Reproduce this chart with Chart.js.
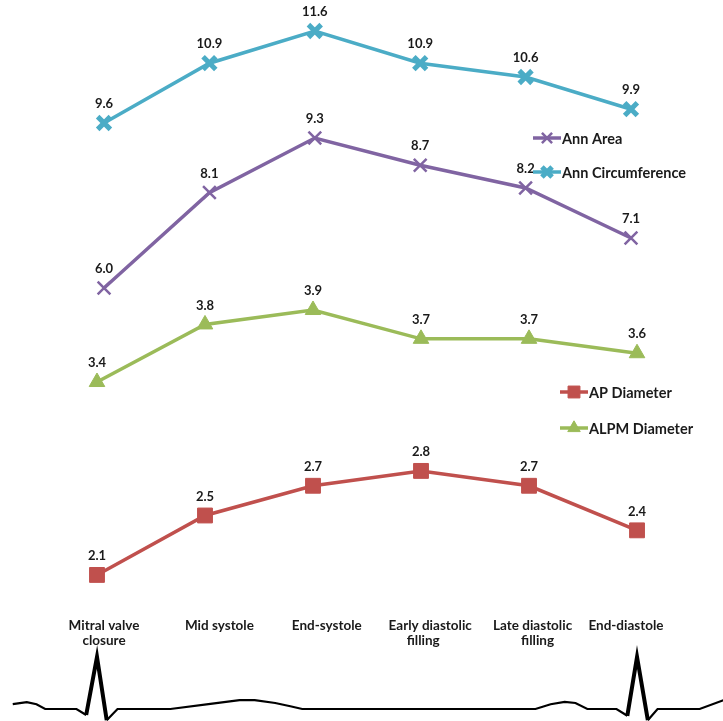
<!DOCTYPE html>
<html>
<head>
<meta charset="utf-8">
<title>Mitral annulus dimensions through the cardiac cycle</title>
<script src="https://cdn.jsdelivr.net/npm/chart.js@4.4.1/dist/chart.umd.min.js"></script>
<style>
    body { margin: 0; background: #fff; }
    canvas { display: block; }
</style>
</head>
<body>
<canvas id="annulusChart" width="723" height="721"></canvas>
<script>
// cardiac phases (x positions are phase indices 0..5)
const phases = [["Mitral valve", "closure"], "Mid systole", "End-systole", ["Early diastolic", "filling"], ["Late diastolic", "filling"], "End-diastole"];

// annulus measurements per phase
const annCircumference = [9.6, 10.9, 11.6, 10.9, 10.6, 9.9];
const annArea = [6.0, 8.1, 9.3, 8.7, 8.2, 7.1];
const alpmDiameter = [3.4, 3.8, 3.9, 3.7, 3.7, 3.6];
const apDiameter = [2.1, 2.5, 2.7, 2.8, 2.7, 2.4];

// ECG trace under the phases (phase index, mV)
const ecgPhase = [-0.78, -0.65, -0.56, -0.48, -0.19, -0.10, 0, 0.09, 0.19, 0.68, 1.05, 1.32, 1.46, 1.65, 1.79, 1.90,
    4.06, 4.20, 4.33, 4.43, 4.54, 4.81, 4.91, 5.0, 5.10, 5.19, 5.58, 5.80];
const ecgMv = [0.12, 0.17, 0.12, 0, 0, -0.15, 1.3, -0.28, 0, 0, 0.13, 0.22, 0.22, 0.15, 0.07, 0,
    0, 0.12, 0.18, 0.15, 0, 0, -0.17, 1.3, -0.28, 0, 0, 0.22];

const colors = {
    circ: "#4BACC6",
    area: "#8064A2",
    alpm: "#9BBB59",
    ap: "#C0504D"
};

function toPoints(values) {
    return values.map((v, i) => ({ x: i, y: v }));
}

const font = "Lato, 'DejaVu Sans', sans-serif";

// value labels above every point
const valueLabels = {
    id: "valueLabels",
    afterDatasetsDraw(chart) {
        const ctx = chart.ctx;
        ctx.save();
        ctx.font = "bold 13px " + font;
        ctx.fillStyle = "#1a1a1a";
        ctx.textAlign = "center";
        ctx.textBaseline = "middle";
        chart.data.datasets.forEach((ds, i) => {
            if (!ds.showValues) return;
            chart.getDatasetMeta(i).data.forEach((pt, j) => {
                ctx.fillText(ds.data[j].y.toFixed(1), pt.x, pt.y - 19);
            });
        });
        ctx.restore();
    }
};

// phase names under the plot; text boxes sit a little off the point columns
const phaseLabels = {
    id: "phaseLabels",
    afterDraw(chart, args, opts) {
        const ctx = chart.ctx;
        const xs = chart.scales.x;
        ctx.save();
        ctx.font = "bold 13.5px " + font;
        ctx.fillStyle = "#1a1a1a";
        ctx.textAlign = "center";
        ctx.textBaseline = "middle";
        phases.forEach((name, i) => {
            const lines = Array.isArray(name) ? name : [name];
            lines.forEach((line, k) => {
                const dx = opts.nudge[i][k] || 0;
                ctx.fillText(line, xs.getPixelForValue(i) + dx, 626 + k * 15);
            });
        });
        ctx.restore();
    }
};

// two legend blocks, each next to its own group of lines
const groupLegends = {
    id: "groupLegends",
    afterDraw(chart, args, opts) {
        const ctx = chart.ctx;
        ctx.save();
        ctx.font = "bold 14.5px " + font;
        ctx.textBaseline = "middle";
        ctx.textAlign = "left";
        opts.items.forEach(item => {
            const ds = chart.data.datasets.find(d => d.label === item.label);
            ctx.strokeStyle = ds.borderColor;
            ctx.lineWidth = 3.5;
            ctx.beginPath();
            ctx.moveTo(item.x, item.y);
            ctx.lineTo(item.x + 28, item.y);
            ctx.stroke();
            ctx.fillStyle = ds.pointBackgroundColor;
            ctx.strokeStyle = ds.pointBorderColor;
            ctx.lineWidth = ds.pointBorderWidth;
            Chart.helpers.drawPoint(ctx, { pointStyle: ds.pointStyle, radius: ds.pointRadius * 0.8, rotation: 0, borderWidth: ds.pointBorderWidth }, item.x + 14, item.y);
            ctx.fillStyle = "#1a1a1a";
            ctx.fillText(ds.label, item.x + 29, item.y + 1);
        });
        ctx.restore();
    }
};

const ctx = document.getElementById("annulusChart").getContext("2d");
new Chart(ctx, {
    type: "line",
    data: {
        datasets: [
            {
                label: "Ann Circumference",
                data: toPoints(annCircumference),
                xAxisID: "x", yAxisID: "yCirc",
                borderColor: colors.circ, borderWidth: 3.5,
                pointStyle: "crossRot", pointRadius: 9, pointBorderWidth: 5,
                pointBackgroundColor: colors.circ, pointBorderColor: colors.circ,
                showValues: true
            },
            {
                label: "Ann Area",
                data: toPoints(annArea),
                xAxisID: "x", yAxisID: "yArea",
                borderColor: colors.area, borderWidth: 3.5,
                pointStyle: "crossRot", pointRadius: 9, pointBorderWidth: 2.5,
                pointBackgroundColor: colors.area, pointBorderColor: colors.area,
                showValues: true
            },
            {
                label: "ALPM Diameter",
                data: toPoints(alpmDiameter),
                xAxisID: "x2", yAxisID: "yAlpm",
                borderColor: colors.alpm, borderWidth: 3.5,
                pointStyle: "triangle", pointRadius: 9, pointBorderWidth: 1,
                pointBackgroundColor: colors.alpm, pointBorderColor: colors.alpm,
                showValues: true
            },
            {
                label: "AP Diameter",
                data: toPoints(apDiameter),
                xAxisID: "x2", yAxisID: "yAp",
                borderColor: colors.ap, borderWidth: 3.5,
                pointStyle: "rect", pointRadius: 10.5, pointBorderWidth: 1,
                pointBackgroundColor: colors.ap, pointBorderColor: colors.ap,
                showValues: true
            },
            {
                label: "ECG",
                data: ecgPhase.map((p, i) => ({ x: p, y: ecgMv[i] })),
                xAxisID: "x2", yAxisID: "yEcg",
                borderColor: "#000", borderWidth: 2.2,
                pointRadius: 0,
                segment: {
                    borderWidth: c => (c.p0.parsed.y > 0.5 || c.p1.parsed.y > 0.5) ? 4 : 2.2
                }
            }
        ]
    },
    options: {
        responsive: false,
        animation: false,
        layout: { padding: 0, autoPadding: false },
        plugins: {
            legend: { display: false },
            tooltip: { enabled: false },
            phaseLabels: {
                nudge: [[0, 0], [10], [12], [10, 3], [7, 12], [-5]]
            },
            groupLegends: {
                items: [
                    { label: "Ann Area", x: 533, y: 138 },
                    { label: "Ann Circumference", x: 533, y: 172 },
                    { label: "AP Diameter", x: 560, y: 392 },
                    { label: "ALPM Diameter", x: 560, y: 428 }
                ]
            }
        },
        scales: {
            x: { type: "linear", display: false, min: -0.987, max: 5.873 },
            x2: { type: "linear", display: false, min: -0.898, max: 5.796 },
            yCirc: { display: false, min: -3.40, max: 12.274 },
            yArea: { display: false, min: -3.526, max: 12.337 },
            yAlpm: { display: false, min: 1.046, max: 6.053 },
            yAp: { display: false, min: 1.117, max: 5.969 },
            yEcg: { display: false, min: -0.3, max: 17.725 }
        }
    },
    plugins: [valueLabels, phaseLabels, groupLegends]
});
</script>
</body>
</html>
